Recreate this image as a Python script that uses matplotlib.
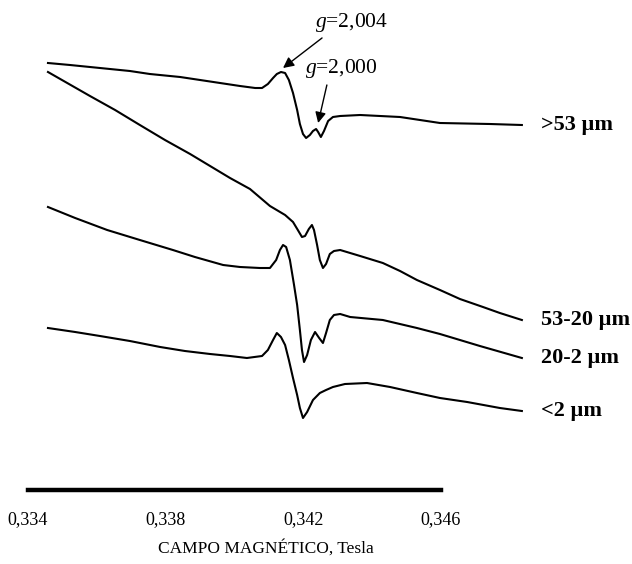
import matplotlib
matplotlib.use("Agg")
import matplotlib.pyplot as plt
from matplotlib.ticker import FuncFormatter

plt.rcParams['font.family'] = ['Liberation Serif', 'DejaVu Serif']
plt.rcParams['mathtext.fontset'] = 'custom'
plt.rcParams['mathtext.rm'] = 'Liberation Serif'
plt.rcParams['mathtext.it'] = 'Liberation Serif:italic'

# magnetic field (Tesla) and signal (arbitrary units)
field_53 = [0.33458, 0.33522, 0.33609, 0.33696, 0.33754, 0.33842, 0.33900, 0.33958,
            0.34016, 0.34060, 0.34080, 0.34097, 0.34112, 0.34123, 0.34135, 0.34147,
            0.34158, 0.34170, 0.34182, 0.34190, 0.34199, 0.34208, 0.34219, 0.34228,
            0.34237, 0.34243, 0.34251, 0.34260, 0.34272, 0.34286, 0.34307, 0.34365,
            0.34481, 0.34597, 0.34742, 0.34835]
signal_53 = [427, 425, 422, 419, 416, 413, 410, 407, 404, 402, 402, 406, 412, 416,
             418, 417, 410, 397, 380, 366, 356, 352, 355, 359, 361, 358, 353, 359,
             369, 373, 374, 375, 373, 367, 366, 365]

field_53_20 = [0.33458, 0.33580, 0.33653, 0.33725, 0.33798, 0.33871, 0.33929, 0.33987,
               0.34045, 0.34103, 0.34147, 0.34170, 0.34184, 0.34196, 0.34205, 0.34216,
               0.34225, 0.34231, 0.34240, 0.34248, 0.34257, 0.34266, 0.34277, 0.34289,
               0.34307, 0.34336, 0.34365, 0.34431, 0.34481, 0.34530, 0.34597, 0.34655,
               0.34722, 0.34771, 0.34835]
signal_53_20 = [418, 394, 380, 365, 350, 336, 324, 312, 301, 284, 275, 268, 260, 253,
                254, 261, 265, 260, 245, 230, 222, 226, 236, 239, 240, 237, 234, 227,
                219, 210, 200, 191, 183, 177, 170]

field_20_2 = [0.33458, 0.33537, 0.33630, 0.33725, 0.33821, 0.33885, 0.33967, 0.34016,
              0.34074, 0.34103, 0.34121, 0.34132, 0.34141, 0.34150, 0.34161, 0.34173,
              0.34182, 0.34190, 0.34196, 0.34202, 0.34211, 0.34222, 0.34234, 0.34246,
              0.34257, 0.34266, 0.34277, 0.34289, 0.34307, 0.34336, 0.34431, 0.34530,
              0.34597, 0.34713, 0.34835]
signal_20_2 = [283, 272, 260, 250, 240, 233, 225, 223, 222, 222, 230, 240, 245, 243,
               230, 205, 185, 160, 140, 128, 135, 150, 158, 152, 147, 157, 170, 175,
               176, 173, 170, 162, 156, 144, 132]

field_2 = [0.33458, 0.33537, 0.33609, 0.33696, 0.33784, 0.33856, 0.33929, 0.33987,
           0.34036, 0.34080, 0.34097, 0.34112, 0.34123, 0.34135, 0.34147, 0.34158,
           0.34170, 0.34182, 0.34190, 0.34199, 0.34211, 0.34228, 0.34248, 0.34266,
           0.34286, 0.34321, 0.34385, 0.34452, 0.34530, 0.34597, 0.34676, 0.34771,
           0.34835]
signal_2 = [162, 158, 154, 149, 143, 139, 136, 134, 132, 134, 140, 150, 157, 153,
            145, 130, 112, 95, 82, 72, 78, 90, 97, 100, 103, 106, 107, 103, 97, 92,
            88, 82, 79]

traces = [
    (field_53, signal_53, '>53 \u00b5m'),
    (field_53_20, signal_53_20, '53-20 \u00b5m'),
    (field_20_2, signal_20_2, '20-2 \u00b5m'),
    (field_2, signal_2, '<2 \u00b5m'),
]

ticks = [0.334, 0.338, 0.342, 0.346]

fig = plt.figure(figsize=(6.32, 5.64), dpi=100)
ax = fig.add_axes([0, 0, 1, 1])

for x, y, name in traces:
    ax.plot(x, y, color='black', lw=1.5, solid_joinstyle='round')
    ax.annotate(name, xy=(x[-1], y[-1]), xytext=(14, 0), textcoords='offset points',
                ha='left', va='center', fontsize=16, fontweight='bold')

# g markers on the >53 um spectrum
ax.annotate('$g$=2,004', xy=(0.34141, 422), xytext=(0.34339, 468),
            ha='center', va='center', fontsize=15.5,
            arrowprops=dict(arrowstyle='-|>', color='black', lw=1,
                            mutation_scale=16, relpos=(0.18, 0), shrinkA=2, shrinkB=0))
ax.annotate('$g$=2,000', xy=(0.34243, 367), xytext=(0.34310, 422),
            ha='center', va='center', fontsize=15.5,
            arrowprops=dict(arrowstyle='-|>', color='black', lw=1,
                            mutation_scale=16, relpos=(0.32, 0), shrinkA=2, shrinkB=0))

ax.set_xlim(0.333186, 0.351550)
ax.set_ylim(-74, 490)

for s in ['top', 'left', 'right']:
    ax.spines[s].set_visible(False)
ax.spines['bottom'].set_position(('data', 0))
ax.spines['bottom'].set_bounds(ticks[0], ticks[-1])
ax.spines['bottom'].set_linewidth(3.2)

ax.set_yticks([])
ax.set_xticks(ticks)
ax.xaxis.set_major_formatter(FuncFormatter(lambda v, p: f'{v:.3f}'.replace('.', ',')))
ax.tick_params(axis='x', length=0, pad=15, labelsize=13)

fig.text(266 / 632, 1 - 548 / 564, 'CAMPO MAGN\u00c9TICO, Tesla', ha='center', va='center',
         fontsize=12.5)

fig.savefig('out.png', dpi=100)
